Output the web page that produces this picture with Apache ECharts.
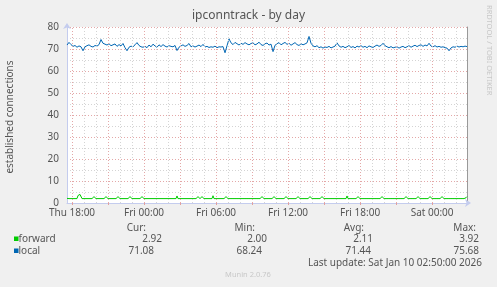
<!DOCTYPE html>
<html>
<head>
<meta charset="utf-8">
<script src="https://cdn.jsdelivr.net/npm/echarts@6/dist/echarts.min.js"></script>
<style>
html,body{margin:0;padding:0;background:#f0f0f0;}
#chart{width:497px;height:287px;}
</style>
</head>
<body>
<div id="chart"></div>
<script>
// ---- data ----
const titleText = 'ipconntrack - by day';
const yAxisName = 'established connections';
const tickLabels = ['Thu 18:00', 'Fri 00:00', 'Fri 06:00', 'Fri 12:00', 'Fri 18:00', 'Sat 00:00'];
const tickHours = [0, 6, 12, 18, 24, 30];   // hours after Thu 18:00
const startHour = -0.42;                    // first sample, hours after Thu 18:00
const endHour = 32.91;
const localStepHours = 1 / 6;               // 10 minute samples
const forwardStepHours = 1 / 12;            // 5 minute samples

const localValues = [
  71.8, 73.0, 72.0, 71.2, 71.6, 70.8, 71.4, 71.0, 69.2, 71.0,
  71.5, 71.9, 71.2, 70.9, 71.6, 71.3, 72.0, 74.3, 72.6, 72.2,
  71.8, 72.4, 71.5, 71.9, 72.3, 71.2, 72.0, 71.4, 72.5, 70.6,
  69.2, 70.8, 71.3, 71.0, 71.9, 72.9, 71.6, 71.0, 70.8, 71.2,
  70.6, 71.8, 71.0, 72.2, 71.4, 70.8, 71.9, 71.1, 72.0, 71.3,
  70.9, 71.5, 71.2, 71.0, 71.6, 69.3, 70.8, 71.4, 71.9, 71.2,
  71.6, 72.5, 71.0, 71.4, 70.9, 71.3, 71.8, 71.1, 72.1, 70.9,
  71.2, 70.7, 71.0, 70.8, 71.3, 70.6, 71.0, 70.9, 71.1, 68.3,
  71.5, 74.6, 72.8, 72.0, 73.0, 72.4, 71.8, 72.6, 72.1, 72.9,
  72.3, 71.9, 72.5, 72.8, 71.9, 72.3, 73.1, 72.0, 71.6, 72.4,
  72.7, 71.8, 72.2, 68.8, 71.7, 72.4, 72.9, 71.9, 72.5, 73.0,
  72.1, 72.6, 71.7, 72.3, 72.9, 72.0, 71.6, 72.4, 71.9, 72.3,
  72.8, 75.7, 72.6, 71.4, 71.0, 71.5, 70.6, 71.0, 70.4, 70.9,
  70.7, 71.2, 70.5, 70.9, 71.3, 72.8, 71.4, 70.8, 71.2, 70.6,
  71.0, 71.6, 70.7, 71.1, 70.5, 71.3, 70.9, 71.5, 70.8, 71.2,
  70.6, 71.4, 71.0, 70.7, 71.3, 71.8, 71.2, 71.6, 72.6, 71.5,
  71.0, 70.6, 71.1, 70.5, 70.8, 71.0, 70.4, 70.9, 71.2, 70.6,
  71.0, 71.5, 70.8, 71.3, 71.7, 71.1, 71.6, 71.9, 71.2, 71.8,
  71.4, 72.6, 71.3, 71.0, 71.5, 70.9, 71.2, 70.8, 71.0, 70.6,
  70.4, 69.2, 70.5, 71.0, 70.8, 71.3, 70.9, 71.2, 71.0, 71.3, 71.1
];

const forwardValues = [
  2.1,2.9,2,2,2,2,2,2,2,2, 2,3.4,3.5,3.9,3.8,2,2,2,2,2,
  2,2,2,2,2,2,2,2.9,2,2, 2,2,2,2,2,2,2,2,2,2.9,
  2,2,2,2,2,2,2,2,2,2, 2,2.9,2,2,2,2,2,2,2,2,
  2,2,2,2.9,2,2,2,2,2,2, 2,2,2,2,2,2.9,2,2,2,2,
  2,2,2,2,2,2,2.9,2,2,2, 2,2,2,2,2,2,2,2,2,2,
  2,2,2,2,2,2,2,2,2,2, 3.2,2,2,2,2,2,2,2,2,2,
  2,2,2.9,2,2,2,2,2,2,2, 2,2.9,2,2,2,2.9,2,2,2,2,
  2,2,2,2,2,2,3.3,2,2,2, 2,2,2,2,2,2,2,2,2,2.9,
  2,2,2,2,2,2,2,2,2,2, 2.9,2,2,2,2,2,2,2,2,2,
  2,2,2.9,2,2,2,2,2,2,2, 2,2,2,2,2,2.9,2,2,2,2,
  2,2,2,2,2,2,2,2.9,2,2, 2,2,2,2,2,2,2,2,2,2.9,
  2,2,2,2,2,2,2,2,2,2, 2,2.9,2,2,2,2,2,2,2,2,
  2.9,2,2,2.9,2,2,2,2,2,2, 2,2,2,2,2,2.9,2,2,2,2,
  2,2,2,2,2,2,2.9,2,2,2, 2,2,2,2,2,2,2,2,2,2,
  3.2,2,2,2,2,2,2,2,2,2, 2,2.9,2,2,2,2,2,2,2,2,
  2,2,2.9,2,2,2,2,2,2,2, 2,2,2,2,2,2.9,2,2,2,2,
  2,2,2,2,2,2,2.9,2,2,2, 2,2,2,2,2,2,2,2,2,2.9,
  2,2,2,2,2,2,2,2,2,2, 2,2.9,2,2,2,2,2,2,2,2,
  2.9,2,2,2.9,2,2,2,2,2,2, 2,2,2,2,2,2.9,2,2,2,2,
  2,2,2,2,2,2,2.9,2,2,2, 2,2,2,2,2,2,2,2,2,2.4,
  2.92
];

const seriesNames = ['forward', 'local'];
const seriesColors = ['#00cc00', '#0066b3'];
const statHeaders = ['Cur:', 'Min:', 'Avg:', 'Max:'];
const forwardStats = ['2.92', '2.00', '2.11', '3.92'];
const localStats = ['71.08', '68.24', '71.44', '75.68'];
const lastUpdate = 'Last update: Sat Jan 10 02:50:00 2026';
const footer = 'Munin 2.0.76';
const sideText = 'RRDTOOL / TOBI OETIKER';

// ---- build ----
const localData = localValues.map((v, i) => [startHour + i * localStepHours, v]);
const forwardData = forwardValues.map((v, i) => [startHour + i * forwardStepHours, v]);

const hourGrid = [];
for (let h = 0; h <= 32; h++) hourGrid.push(h);
const minorV = hourGrid.filter(h => h % 3 !== 0).map(h => ({ xAxis: h }));
const majorV = hourGrid.filter(h => h % 3 === 0).map(h => ({ xAxis: h }));

const FONT = 'Noto Sans';
const TXT = '#555';

const chart = echarts.init(document.getElementById('chart'), null, { renderer: 'canvas' });

const gridL = 67, gridR = 467, gridT = 27, gridB = 203;

const statCols = [
  { header: 146, fwd: 162, loc: 154 },
  { header: 255, fwd: 267, loc: 262 },
  { header: 364, fwd: 373, loc: 371 },
  { header: 476, fwd: 479, loc: 479 }
];

const graphics = [
  { type: 'text', left: 'center', top: 10, style: { text: titleText, font: '12px "' + FONT + '"', fill: '#555' } },
  { type: 'text', x: 10, y: 117, rotation: Math.PI / 2, style: { text: yAxisName, font: '10px "' + FONT + '"', fill: TXT, textAlign: 'center', textVerticalAlign: 'middle' } },
  { type: 'text', x: 489, y: 5, rotation: -Math.PI / 2, style: { text: sideText, font: '7.5px "' + FONT + '"', fill: '#c8c8c8', textAlign: 'left', textVerticalAlign: 'middle' } },
  { type: 'rect', shape: { x: 14, y: 236.5, width: 4.5, height: 4.5 }, style: { fill: seriesColors[0] } },
  { type: 'rect', shape: { x: 14, y: 248.5, width: 4.5, height: 4.5 }, style: { fill: seriesColors[1] } },
  { type: 'text', x: 18.5, y: 239, style: { text: seriesNames[0], font: '10px "' + FONT + '"', fill: TXT, textVerticalAlign: 'middle' } },
  { type: 'text', x: 18.5, y: 251, style: { text: seriesNames[1], font: '10px "' + FONT + '"', fill: TXT, textVerticalAlign: 'middle' } },
  { type: 'text', x: 482, y: 263.5, style: { text: lastUpdate, font: '10px "' + FONT + '"', fill: TXT, textAlign: 'right', textVerticalAlign: 'middle' } },
  { type: 'text', x: 248, y: 275, style: { text: footer, font: '7.5px "' + FONT + '"', fill: '#c8c8c8', textAlign: 'center', textVerticalAlign: 'middle' } }
];
statCols.forEach((c, k) => {
  graphics.push({ type: 'text', x: c.header, y: 228.5, style: { text: statHeaders[k], font: '10px "' + FONT + '"', fill: TXT, textAlign: 'right', textVerticalAlign: 'middle' } });
  graphics.push({ type: 'text', x: c.fwd, y: 239, style: { text: forwardStats[k], font: '10px "' + FONT + '"', fill: TXT, textAlign: 'right', textVerticalAlign: 'middle' } });
  graphics.push({ type: 'text', x: c.loc, y: 251, style: { text: localStats[k], font: '10px "' + FONT + '"', fill: TXT, textAlign: 'right', textVerticalAlign: 'middle' } });
});

const option = {
  backgroundColor: '#f0f0f0',
  animation: false,
  textStyle: { fontFamily: FONT },
  grid: { left: gridL, right: 497 - gridR, top: gridT, bottom: 287 - gridB, backgroundColor: '#ffffff', show: true, borderWidth: 0 },
  xAxis: {
    type: 'value', min: startHour, max: endHour,
    axisLine: { show: true, onZero: false, lineStyle: { color: '#c4ccee', width: 1 }, symbol: ['none', 'arrow'], symbolSize: [6, 6], symbolOffset: [0, 4] },
    axisTick: { show: true, customValues: [0, 3, 6, 9, 12, 15, 18, 21, 24, 27, 30], length: 2, inside: false, lineStyle: { color: '#e0a0a0' } },
    axisLabel: {
      customValues: tickHours, margin: 5, color: TXT, fontSize: 10, fontFamily: FONT,
      formatter: v => tickLabels[tickHours.indexOf(Math.round(v))]
    },
    splitLine: { show: false }
  },
  yAxis: [{
    type: 'value', min: 0, max: 80, interval: 10,
    axisLine: { show: true, onZero: false, lineStyle: { color: '#c4ccee', width: 1 }, symbol: ['none', 'arrow'], symbolSize: [6, 6], symbolOffset: [0, 4] },
    axisTick: { show: false },
    axisLabel: { margin: 8, color: TXT, fontSize: 10, fontFamily: FONT },
    splitLine: { show: true, lineStyle: { color: '#e4a8a8', type: [1, 2], width: 1 } },
    minorTick: { show: false, splitNumber: 2 },
    minorSplitLine: { show: true, lineStyle: { color: '#d4d4d4', type: [1, 2], width: 1 } }
  }, {
    type: 'value', min: 0, max: 80, interval: 10, position: 'right',
    axisLine: { show: true, onZero: false, lineStyle: { color: '#999', width: 1 } },
    axisTick: { show: false }, axisLabel: { show: false }, splitLine: { show: false }
  }],
  series: [
    {
      type: 'line', name: 'grid', data: [], silent: true, z: 1,
      markLine: {
        silent: true, symbol: 'none', label: { show: false }, animation: false,
        lineStyle: { color: '#d4d4d4', type: [1, 2], width: 1 },
        data: minorV
      }
    },
    {
      type: 'line', name: 'grid2', data: [], silent: true, z: 1,
      markLine: {
        silent: true, symbol: 'none', label: { show: false }, animation: false,
        lineStyle: { color: '#e4a8a8', type: [1, 2], width: 1 },
        data: majorV
      }
    },
    {
      type: 'line', name: seriesNames[1], data: localData, showSymbol: false, z: 3,
      lineStyle: { color: seriesColors[1], width: 1 }, itemStyle: { color: seriesColors[1] }
    },
    {
      type: 'line', name: seriesNames[0], data: forwardData, showSymbol: false, z: 4,
      lineStyle: { color: seriesColors[0], width: 1 }, itemStyle: { color: seriesColors[0] }
    }
  ],
  graphic: graphics
};
chart.setOption(option);
</script>
</body>
</html>
